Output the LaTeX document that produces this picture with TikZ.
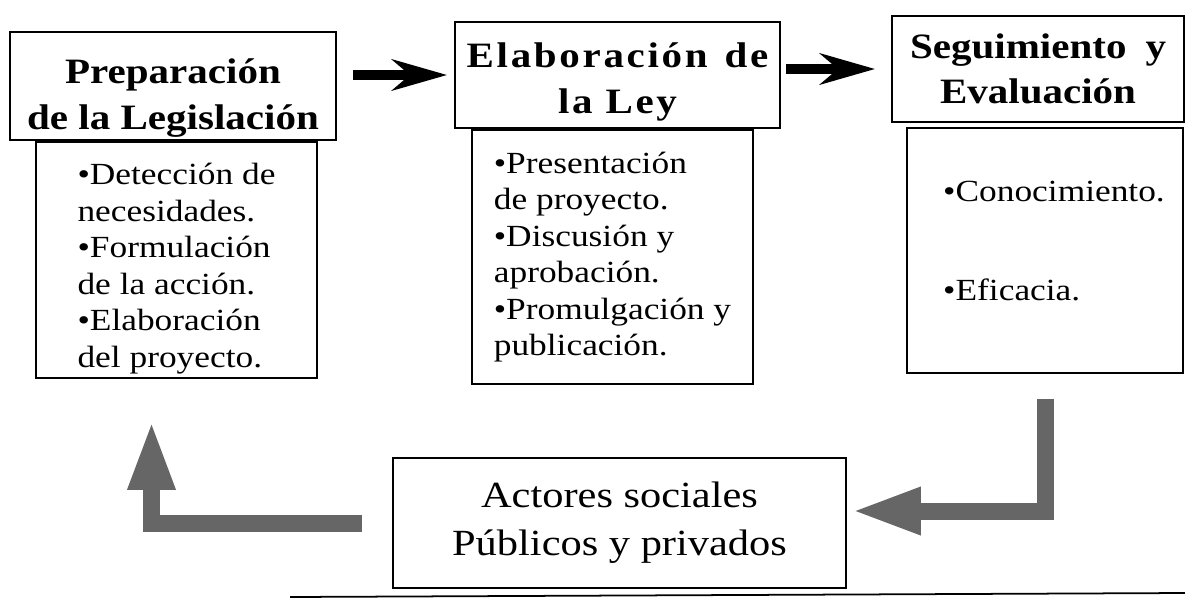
\documentclass[tikz,border=0pt]{standalone}
\usepackage{fontspec}
\setmainfont{Liberation Serif}[FakeStretch=1.15]
\usetikzlibrary{arrows.meta}
\begin{document}
\begin{tikzpicture}[x=0.02cm, y=-0.02cm,
            box/.style={draw, line width=1pt, inner sep=0pt},
            head/.style={box, align=center, font=\fontsize{20.3}{26}\selectfont\bfseries},
            widehead/.style={head, font=\fontsize{20.3}{26}\selectfont\bfseries\addfontfeature{LetterSpace=7.5}},
            body/.style={box, align=left, font=\fontsize{17.5}{20.8}\selectfont},
            bigarrow/.style={line width=0.2cm, -{Stealth[length=1.1cm, width=0.62cm]}},
            greyarrow/.style={line width=0.34cm, black!60, line join=miter, -{Triangle[length=1.4cm, width=0.86cm]}}]
            \useasboundingbox (0,0) rectangle (1185,605);

            \node[head, minimum width=6.52cm, minimum height=2.16cm] (prep) at (173,86) {\rule{0pt}{28pt}Preparación\\de la Legislación};
            \node[body, minimum width=5.62cm, minimum height=4.72cm] (prepbody) at (176.5,260)
                {\rule{0pt}{22pt}•Detección de\\necesidades.\\•Formulación\\de la acción.\\•Elaboración\\del proyecto.};
            \node[widehead, minimum width=6.5cm, minimum height=2.12cm] (elab) at (617.5,75)
                {\rule{0pt}{22pt}Elaboración\hspace{0.34cm}de\\la Ley};
            \node[body, minimum width=5.62cm, minimum height=5.08cm] (elabbody) at (612.5,257)
                {•Presentación\\de proyecto.\\•Discusión y\\aprobación.\\•Promulgación y\\publicación.};
            \node[head, minimum width=5.84cm, minimum height=2.12cm] (seg) at (1038,69) {Seguimiento\hspace{0.38cm}y\\Evaluación};
            \node[body, minimum width=5.52cm, minimum height=4.9cm] (segbody) at (1045,250.5)
                {\hspace*{0.36cm}•Conocimiento.\\[36pt]\hspace*{0.36cm}•Eficacia.\rule[-11pt]{0pt}{11pt}};
            \node[box, align=center, font=\fontsize{21}{27.3}\selectfont, minimum width=9.06cm, minimum height=2.6cm] (actores) at (619.5,523)
                {Actores sociales\\Públicos y privados};

            \draw[bigarrow, shorten <=0.32cm, shorten >=0.14cm] (prep.east |- elab.west) -- (elab.west);
            \draw[bigarrow, shorten <=0.1cm, shorten >=0.32cm] (elab.east |- seg.west) -- (seg.west);
            \draw[greyarrow, shorten <=0.5cm, shorten >=0.08cm] (segbody.south) |- ([yshift=0.24cm]actores.east);
            \draw[greyarrow, shorten <=0.6cm, shorten >=0.82cm] (actores.west) -| ([xshift=-0.5cm]prepbody.south);
            \draw[line width=1pt] (290,597) -- (1185,593);
        \end{tikzpicture}
\end{document}
